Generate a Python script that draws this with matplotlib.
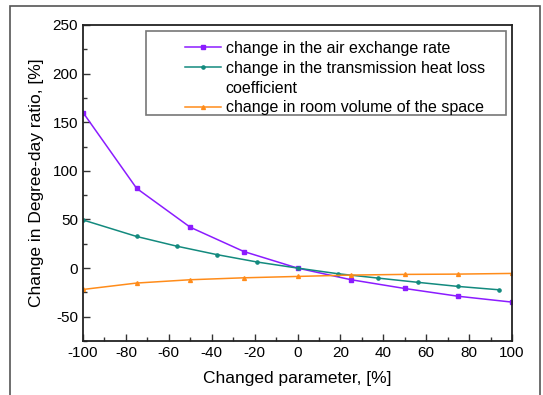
import numpy as np
import matplotlib.pyplot as plt
from matplotlib.patches import Rectangle
from matplotlib.lines import Line2D
from matplotlib.ticker import MultipleLocator

plt.rcParams['font.family'] = ['Liberation Sans', 'DejaVu Sans']
plt.rcParams['axes.unicode_minus'] = False

# Data
x_air = [-100, -75, -50, -25, 0, 25, 50, 75, 100]
y_air = [160, 82, 42, 17, 0, -12, -21, -29, -35]

x_trans = [-100, -75, -56.25, -37.5, -18.75, 0, 18.75, 37.5, 56.25, 75, 93.75]
y_trans = [49.5, 32.5, 22.5, 13.8, 6.2, 0, -5.8, -10.3, -14.7, -18.9, -22.3]

x_vol = [-100, -75, -50, -25, 0, 25, 50, 75, 100]
y_vol = [-22, -15.4, -12, -10, -8.6, -7.2, -6.5, -6.2, -5.5]

labels = ['change in the air exchange rate',
          'change in the transmission heat loss',
          'coefficient',
          'change in room volume of the space']

W, H = 543, 395
fig = plt.figure(figsize=(W / 100, H / 100), dpi=100)
ax = fig.add_axes([83/W, 1 - 341/H, (512-83)/W, (341-25)/H])

# outer frame around the figure
fig.patches.append(Rectangle((10/W, -0.05), (540-10)/W, 1.05 - 6/H,
                             transform=fig.transFigure, fill=False,
                             edgecolor='#555555', linewidth=1.2))

l1, = ax.plot(x_air, y_air, color='#8b1cff', marker='s', markersize=2.2, linewidth=1.1)
l2, = ax.plot(x_trans, y_trans, color='#138a7e', marker='o', markersize=2.3, linewidth=1.1)
l3, = ax.plot(x_vol, y_vol, color='#ff8c1a', marker='^', markersize=2.8, linewidth=1.1)

ax.set_xlim(-100, 100)
ax.set_ylim(-75, 250)
ax.xaxis.set_major_locator(MultipleLocator(20))
ax.xaxis.set_minor_locator(MultipleLocator(10))
ax.yaxis.set_major_locator(MultipleLocator(50))
ax.yaxis.set_minor_locator(MultipleLocator(25))
ax.tick_params(which='both', direction='in', top=False, right=False, labelsize=11, width=1, color='#333333')
ax.tick_params(which='major', length=5)
ax.tick_params(which='minor', length=3)
for s in ax.spines.values():
    s.set_linewidth(1.3)
    s.set_color('#222222')

ax.set_xlabel('Changed parameter, [%]', fontsize=12.5, labelpad=8)
ax.set_ylabel('Change in Degree-day ratio, [%]', fontsize=12.5, labelpad=6)

# legend: frame drawn separately, entries anchored in pixels
fig.patches.append(Rectangle((146/W, 1 - 115/H), (506-146)/W, (115-31)/H,
                             transform=fig.transFigure, fill=True, facecolor='white',
                             edgecolor='#777777', linewidth=1.2, zorder=3))
blank = Line2D([], [], linestyle='none')
leg = fig.legend([l1, l2, blank, l3], labels, loc='upper left',
                 bbox_to_anchor=(185/W, 1 - 41/H), fontsize=11.5, frameon=False,
                 handlelength=2.25, labelspacing=0.3, borderpad=0, borderaxespad=0,
                 handletextpad=0.3)
leg.set_zorder(4)

fig.savefig('out.png', dpi=100)
